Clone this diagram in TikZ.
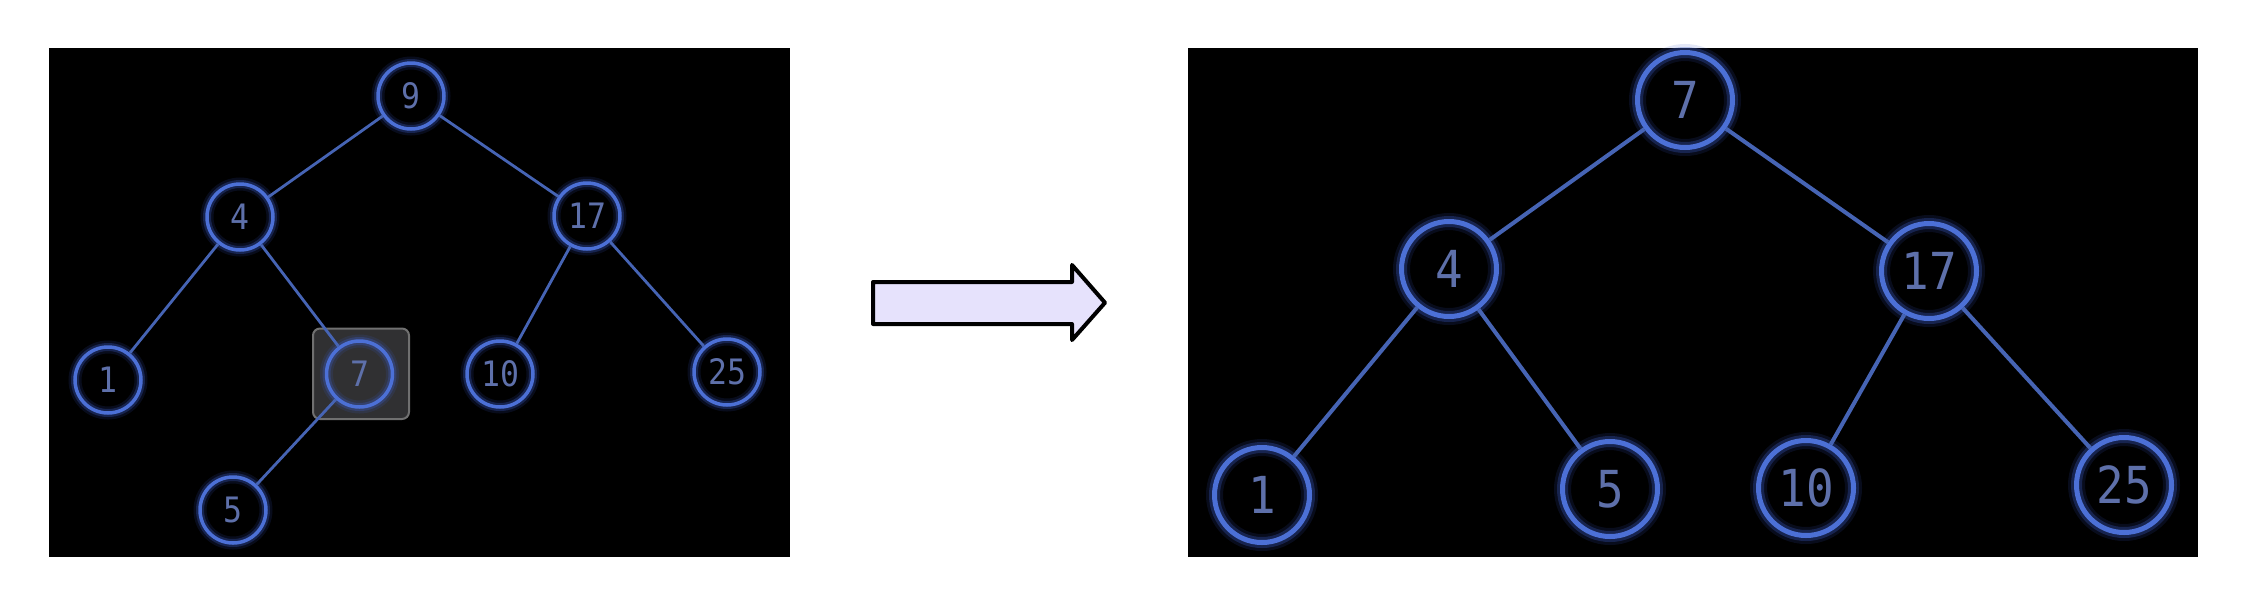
\documentclass[tikz,border=0pt]{standalone}
\usepackage{fontspec}
\newfontfamily\nodefont[FakeStretch=0.9]{DejaVu Sans Mono}
\definecolor{ringblue}{RGB}{76,112,214}
\definecolor{glowblue}{RGB}{60,92,200}
\definecolor{edgeblue}{RGB}{70,100,180}
\definecolor{digitcol}{RGB}{94,112,170}
\definecolor{arrowfill}{RGB}{230,226,252}
\definecolor{boxfill}{RGB}{48,48,50}
\definecolor{boxline}{RGB}{112,112,112}
\begin{document}
\begin{tikzpicture}[x=1pt,y=-1pt,
  panel/.style={fill=black, draw=none},
  smallnode/.style={circle, minimum size=66pt, inner sep=0pt, draw=ringblue, line width=3.5pt,
    text=digitcol, font={\nodefont\fontsize{35}{35}\selectfont},
    preaction={draw=glowblue, line width=13pt, draw opacity=0.14},
    preaction={draw=glowblue, line width=8pt, draw opacity=0.3}},
  bignode/.style={circle, minimum size=95pt, inner sep=0pt, draw=ringblue, line width=5pt,
    text=digitcol, font={\nodefont\fontsize{51}{51}\selectfont},
    preaction={draw=glowblue, line width=17pt, draw opacity=0.14},
    preaction={draw=glowblue, line width=11pt, draw opacity=0.3}},
  smalledge/.style={draw=edgeblue, line width=2.8pt},
  bigedge/.style={draw=edgeblue, line width=4pt},
  selbox/.style={fill=boxfill, draw=boxline, line width=2pt, rounded corners=7pt},
  bigarrow/.style={fill=arrowfill, draw=black, line width=4pt, line join=round}
]
\useasboundingbox (0,0) rectangle (2246,606);
\fill[white] (0,0) rectangle (2246,606);

% left panel
\path[panel] (48.5,47.5) rectangle (790,557);
\path[selbox] (313,328.5) rectangle (409,419);
\node[smallnode] (L9) at (411,96) {9};
\node[smallnode] (L4) at (240,217) {4};
\node[smallnode] (L17) at (587,216) {17};
\node[smallnode] (L1) at (108,380) {1};
\node[smallnode] (L7) at (359.5,374) {7};
\node[smallnode] (L10) at (500,374) {10};
\node[smallnode] (L25) at (727,372) {25};
\node[smallnode] (L5) at (233,510) {5};
\draw[smalledge] (L9) -- (L4);
\draw[smalledge] (L9) -- (L17);
\draw[smalledge] (L4) -- (L1);
\draw[smalledge] (L4) -- (L7);
\draw[smalledge] (L17) -- (L10);
\draw[smalledge] (L17) -- (L25);
\draw[smalledge] (L7) -- (L5);

% arrow
\path[bigarrow] (873,282) -- (1072,282) -- (1072,265) -- (1105,302.7) -- (1072,340) -- (1072,324) -- (873,324) -- cycle;

% right panel
\path[panel] (1188,47.5) rectangle (2198,557);
\node[bignode] (R7) at (1685,100) {7};
\node[bignode] (R4) at (1449,269) {4};
\node[bignode] (R17) at (1929,271) {17};
\node[bignode] (R1) at (1262,495) {1};
\node[bignode] (R5) at (1610,489) {5};
\node[bignode] (R10) at (1806,488) {10};
\node[bignode] (R25) at (2124,485) {25};
\draw[bigedge] (R7) -- (R4);
\draw[bigedge] (R7) -- (R17);
\draw[bigedge] (R4) -- (R1);
\draw[bigedge] (R4) -- (R5);
\draw[bigedge] (R17) -- (R10);
\draw[bigedge] (R17) -- (R25);
\end{tikzpicture}
\end{document}
